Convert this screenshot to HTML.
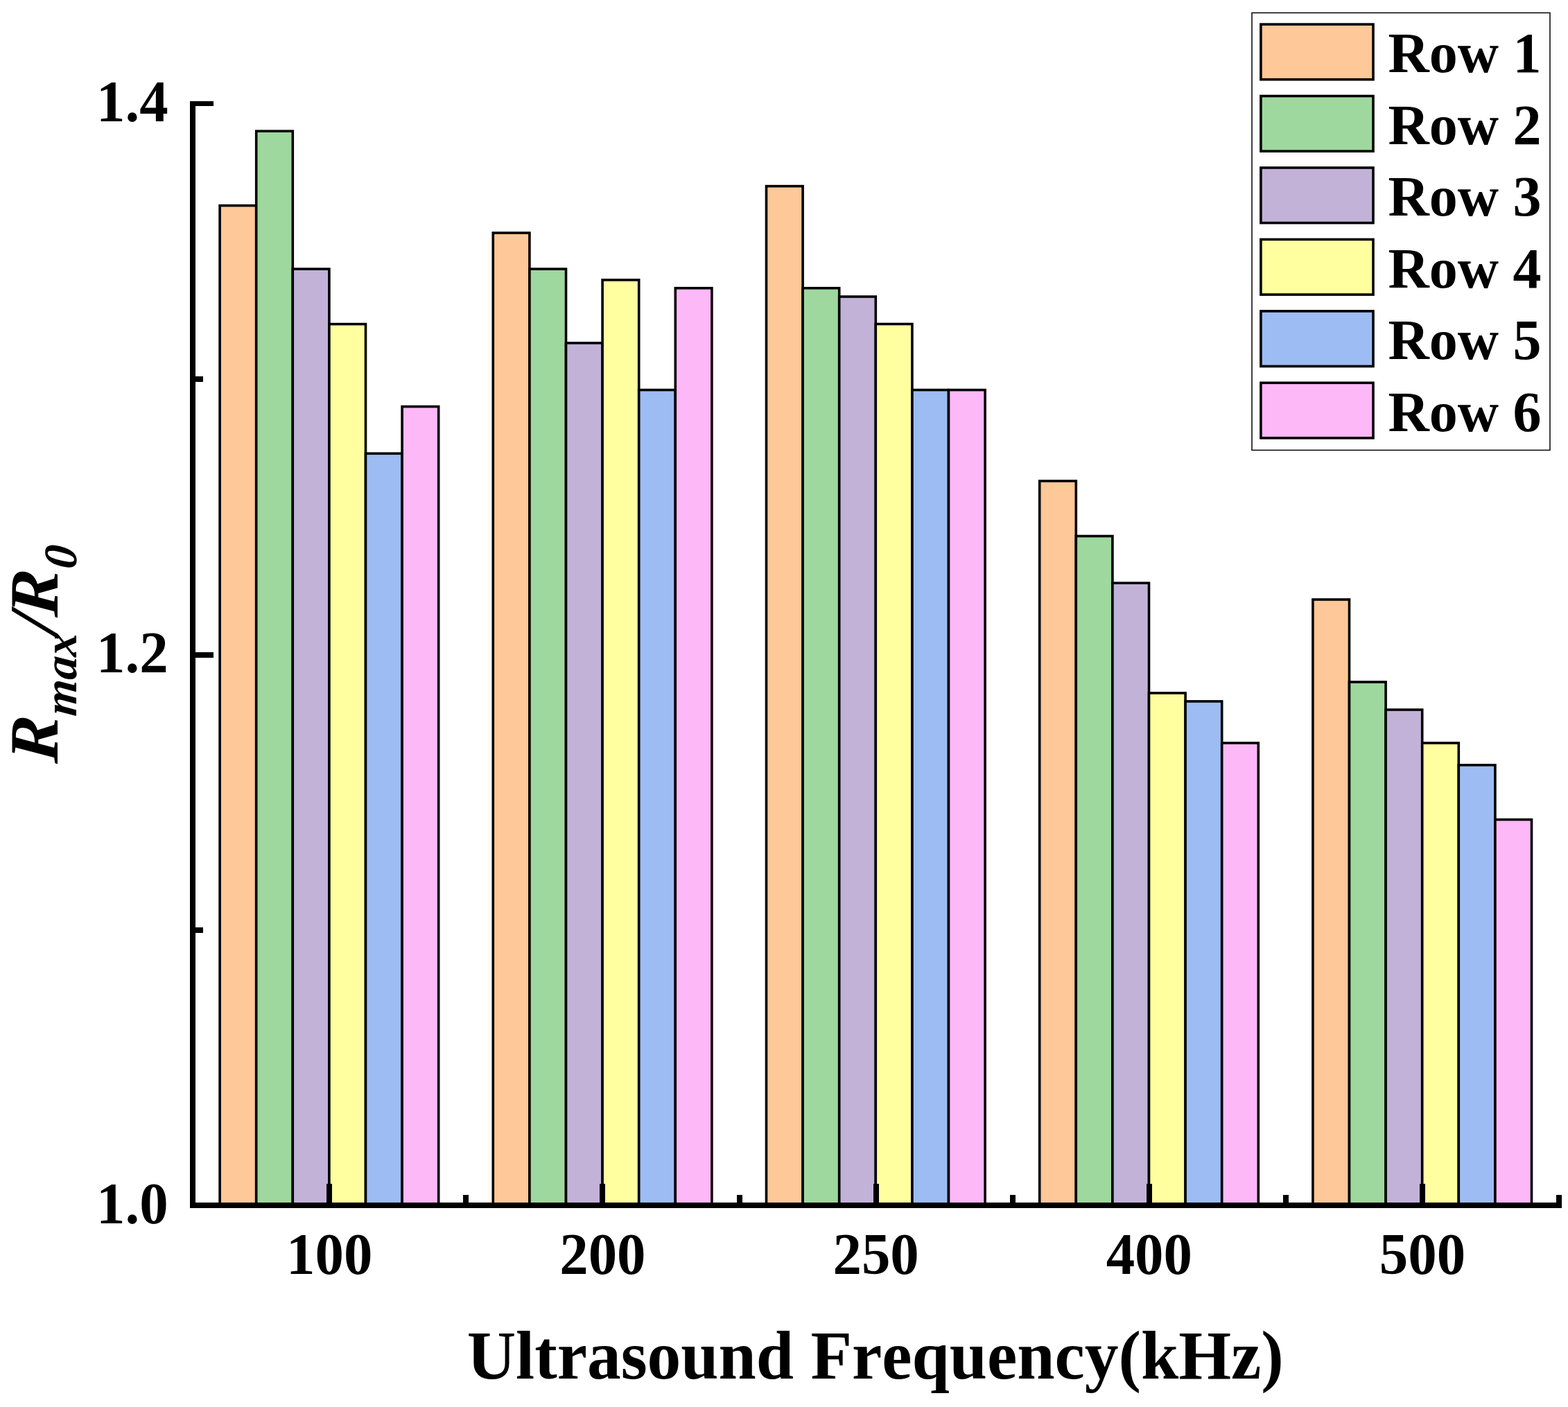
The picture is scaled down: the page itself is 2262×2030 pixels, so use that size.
<!DOCTYPE html>
<html lang="en">
<head>
<meta charset="utf-8">
<title>Rmax/R0 vs Ultrasound Frequency</title>
<style>
html,body{margin:0;padding:0;background:#fff;}
body{width:2262px;height:2030px;}
svg{display:block;}
text{font-family:"Liberation Serif", serif;font-weight:bold;fill:#000;font-kerning:none;}
.bar{stroke:#000;stroke-width:3.6;stroke-linejoin:miter;}
.ax{fill:#000;}
</style>
</head>
<body>
<svg width="2262" height="2030" viewBox="0 0 2262 2030">
<rect x="0" y="0" width="2262" height="2030" fill="#fff"/>
<g id="bars">
<rect class="bar" x="317.10" y="296.60" width="52.60" height="1442.40" fill="#FEC898"/>
<rect class="bar" x="369.70" y="189.20" width="52.60" height="1549.80" fill="#9ED89E"/>
<rect class="bar" x="422.30" y="388.10" width="52.60" height="1350.90" fill="#C2B2D8"/>
<rect class="bar" x="474.90" y="467.60" width="52.60" height="1271.40" fill="#FFFFA0"/>
<rect class="bar" x="527.50" y="654.30" width="52.60" height="1084.70" fill="#9DBCF3"/>
<rect class="bar" x="580.10" y="586.60" width="52.60" height="1152.40" fill="#FDB8F8"/>
<rect class="bar" x="711.30" y="336.00" width="52.60" height="1403.00" fill="#FEC898"/>
<rect class="bar" x="763.90" y="388.10" width="52.60" height="1350.90" fill="#9ED89E"/>
<rect class="bar" x="816.50" y="494.90" width="52.60" height="1244.10" fill="#C2B2D8"/>
<rect class="bar" x="869.10" y="403.90" width="52.60" height="1335.10" fill="#FFFFA0"/>
<rect class="bar" x="921.70" y="562.60" width="52.60" height="1176.40" fill="#9DBCF3"/>
<rect class="bar" x="974.30" y="415.70" width="52.60" height="1323.30" fill="#FDB8F8"/>
<rect class="bar" x="1105.50" y="268.60" width="52.60" height="1470.40" fill="#FEC898"/>
<rect class="bar" x="1158.10" y="415.70" width="52.60" height="1323.30" fill="#9ED89E"/>
<rect class="bar" x="1210.70" y="428.00" width="52.60" height="1311.00" fill="#C2B2D8"/>
<rect class="bar" x="1263.30" y="467.50" width="52.60" height="1271.50" fill="#FFFFA0"/>
<rect class="bar" x="1315.90" y="562.60" width="52.60" height="1176.40" fill="#9DBCF3"/>
<rect class="bar" x="1368.50" y="562.60" width="52.60" height="1176.40" fill="#FDB8F8"/>
<rect class="bar" x="1499.70" y="694.00" width="52.60" height="1045.00" fill="#FEC898"/>
<rect class="bar" x="1552.30" y="773.50" width="52.60" height="965.50" fill="#9ED89E"/>
<rect class="bar" x="1604.90" y="841.20" width="52.60" height="897.80" fill="#C2B2D8"/>
<rect class="bar" x="1657.50" y="999.90" width="52.60" height="739.10" fill="#FFFFA0"/>
<rect class="bar" x="1710.10" y="1011.90" width="52.60" height="727.10" fill="#9DBCF3"/>
<rect class="bar" x="1762.70" y="1072.00" width="52.60" height="667.00" fill="#FDB8F8"/>
<rect class="bar" x="1893.90" y="865.00" width="52.60" height="874.00" fill="#FEC898"/>
<rect class="bar" x="1946.50" y="984.00" width="52.60" height="755.00" fill="#9ED89E"/>
<rect class="bar" x="1999.10" y="1024.00" width="52.60" height="715.00" fill="#C2B2D8"/>
<rect class="bar" x="2051.70" y="1072.00" width="52.60" height="667.00" fill="#FFFFA0"/>
<rect class="bar" x="2104.30" y="1103.80" width="52.60" height="635.20" fill="#9DBCF3"/>
<rect class="bar" x="2156.90" y="1182.50" width="52.60" height="556.50" fill="#FDB8F8"/>
</g>
<g id="axes" class="ax" shape-rendering="crispEdges">
<rect x="274" y="146" width="8" height="1597"/>
<rect x="274" y="1735" width="1979" height="8"/>
<rect x="282" y="146" width="26" height="7"/>
<rect x="282" y="941" width="26" height="8"/>
<rect x="282" y="543" width="11" height="8"/>
<rect x="282" y="1338" width="11" height="8"/>
<rect x="471" y="1708" width="8" height="27"/>
<rect x="668" y="1724" width="8" height="11"/>
<rect x="865" y="1708" width="8" height="27"/>
<rect x="1063" y="1724" width="8" height="11"/>
<rect x="1260" y="1708" width="8" height="27"/>
<rect x="1457" y="1724" width="8" height="11"/>
<rect x="1654" y="1708" width="8" height="27"/>
<rect x="1851" y="1724" width="8" height="11"/>
<rect x="2048" y="1708" width="8" height="27"/>
<rect x="2245" y="1724" width="8" height="11"/>
</g>
<g id="ticklabels" font-size="85">
<text transform="translate(242.6 175.1) scale(0.975 1)" text-anchor="end">1.4</text>
<text transform="translate(242.6 969.9) scale(0.975 1)" text-anchor="end">1.2</text>
<text transform="translate(242.6 1765.3) scale(0.975 1)" text-anchor="end">1.0</text>
<text transform="translate(475.2 1838) scale(0.975 1)" text-anchor="middle">100</text>
<text transform="translate(869.4 1838) scale(0.975 1)" text-anchor="middle">200</text>
<text transform="translate(1263.6 1838) scale(0.975 1)" text-anchor="middle">250</text>
<text transform="translate(1657.8 1838) scale(0.975 1)" text-anchor="middle">400</text>
<text transform="translate(2052.0 1838) scale(0.975 1)" text-anchor="middle">500</text>
</g>
<text id="xtitle" font-size="100" transform="translate(1262.7 1988.9) scale(0.975 1)" text-anchor="middle">Ultrasound Frequency(kHz)</text>
<g id="ytitle" font-size="100" font-style="italic" transform="translate(82.8 1101.9) rotate(-90) skewX(-5)"><text x="0" y="0">R</text><text x="70.1" y="27.4" font-size="67.5">max</text><text x="186.2" y="0">/</text><text x="211" y="0">R</text><text x="282.4" y="27.4" font-size="67.5">0</text></g>
<g id="legend">
<rect x="1806" y="18.5" width="430" height="631" fill="#fff" stroke="#000" stroke-width="1.5"/>
<rect class="bar" x="1818.90" y="35.10" width="162.10" height="79.60" fill="#FEC898"/>
<text font-size="83.5" transform="translate(2002.5 104.2) scale(0.982 1)">Row 1</text>
<rect class="bar" x="1818.90" y="138.55" width="162.10" height="79.60" fill="#9ED89E"/>
<text font-size="83.5" transform="translate(2002.5 207.7) scale(0.982 1)">Row 2</text>
<rect class="bar" x="1818.90" y="242.00" width="162.10" height="79.60" fill="#C2B2D8"/>
<text font-size="83.5" transform="translate(2002.5 311.1) scale(0.982 1)">Row 3</text>
<rect class="bar" x="1818.90" y="345.45" width="162.10" height="79.60" fill="#FFFFA0"/>
<text font-size="83.5" transform="translate(2002.5 414.6) scale(0.982 1)">Row 4</text>
<rect class="bar" x="1818.90" y="448.90" width="162.10" height="79.60" fill="#9DBCF3"/>
<text font-size="83.5" transform="translate(2002.5 518.0) scale(0.982 1)">Row 5</text>
<rect class="bar" x="1818.90" y="552.35" width="162.10" height="79.60" fill="#FDB8F8"/>
<text font-size="83.5" transform="translate(2002.5 621.5) scale(0.982 1)">Row 6</text>
</g>
</svg>
</body>
</html>
